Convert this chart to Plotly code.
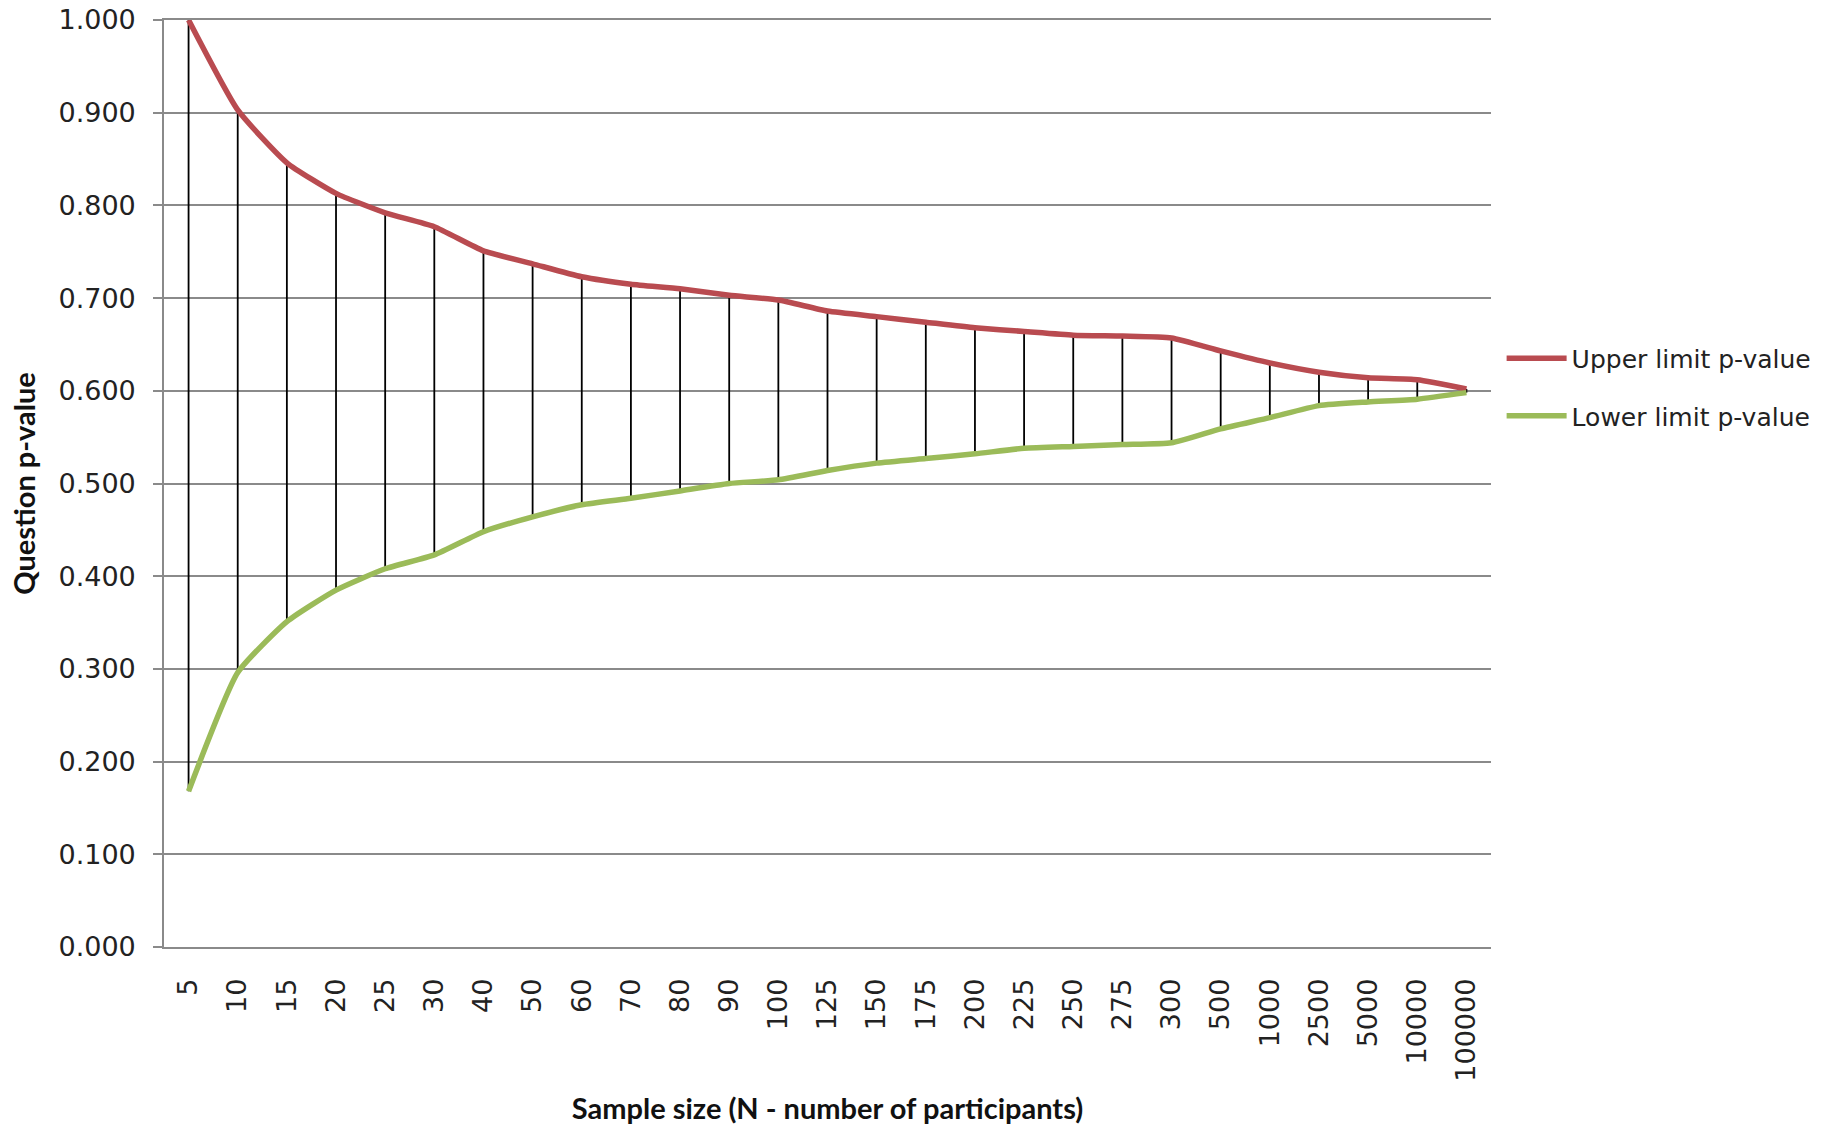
import plotly.graph_objects as go

sample_sizes = ["5", "10", "15", "20", "25", "30", "40", "50", "60", "70", "80", "90", "100",
                "125", "150", "175", "200", "225", "250", "275", "300", "500", "1000", "2500",
                "5000", "10000", "100000"]
upper_p = [1.000, 0.903, 0.846, 0.813, 0.792, 0.777, 0.751, 0.737, 0.723, 0.715, 0.710, 0.703,
           0.698, 0.686, 0.680, 0.674, 0.668, 0.664, 0.660, 0.659, 0.657, 0.643, 0.630, 0.620,
           0.614, 0.612, 0.602]
lower_p = [0.168, 0.296, 0.351, 0.385, 0.408, 0.423, 0.448, 0.464, 0.477, 0.484, 0.492, 0.500,
           0.504, 0.514, 0.522, 0.527, 0.532, 0.538, 0.540, 0.542, 0.544, 0.559, 0.571, 0.584,
           0.588, 0.591, 0.598]
y_ticks = [0.0, 0.1, 0.2, 0.3, 0.4, 0.5, 0.6, 0.7, 0.8, 0.9, 1.0]

# high-low (drop) lines built from the two series
hl_x, hl_y = [], []
for cat, lo, up in zip(sample_sizes, lower_p, upper_p):
    hl_x += [cat, cat, None]
    hl_y += [lo, up, None]

fig = go.Figure()
fig.add_trace(go.Scatter(x=hl_x, y=hl_y, mode="lines", line=dict(color="#000000", width=1.8),
                         showlegend=False, hoverinfo="skip"))
fig.add_trace(go.Scatter(x=sample_sizes, y=upper_p, mode="lines", name="Upper limit p-value",
                         line=dict(color="#B94B50", width=5.5, shape="spline", smoothing=0.5),
                         legendgroup="u"))
fig.add_trace(go.Scatter(x=sample_sizes, y=lower_p, mode="lines", name="Lower limit p-value",
                         line=dict(color="#9BBB59", width=5.5, shape="spline", smoothing=0.5),
                         legendgroup="l"))

fig.update_layout(
    width=1845, height=1139,
    margin=dict(l=164, r=354, t=20, b=192),
    paper_bgcolor="white", plot_bgcolor="white",
    font=dict(family="DejaVu Sans", size=25, color="#222222"),
    showlegend=True,
    legend=dict(x=1.008, y=0.604, xanchor="left", yanchor="middle",
                font=dict(family="DejaVu Sans", size=25, color="#222222"),
                traceorder="grouped", tracegroupgap=22, itemwidth=60,
                bgcolor="rgba(0,0,0,0)"),
    xaxis=dict(
        type="category", categoryorder="array", categoryarray=sample_sizes,
        range=[-0.5, len(sample_sizes) - 0.5],
        tickangle=-90, showgrid=False, zeroline=False,
        showline=True, mirror=True, linecolor="#8A8A8A", linewidth=1.6,
        ticks="", ticklabelstandoff=19,
        tickfont=dict(family="DejaVu Sans", size=27, color="#222222"),
        title=dict(text="<b>Sample size (N - number of participants)</b>",
                   font=dict(family="Lato", size=29, color="#111111"), standoff=18),
        automargin=False,
    ),
    yaxis=dict(
        range=[0, 1.0], tickvals=y_ticks, tickformat=".3f",
        showgrid=True, gridcolor="#8A8A8A", gridwidth=1.6,
        showline=True, linecolor="#8A8A8A", linewidth=1.6,
        ticks="outside", ticklen=9, tickcolor="#8A8A8A", tickwidth=1.6,
        zeroline=False, ticklabelstandoff=12, ticklabeloverflow="allow",
        tickfont=dict(family="DejaVu Sans", size=27, color="#222222"),
        title=dict(text="<b>Question p-value</b>",
                   font=dict(family="Lato", size=29, color="#111111"), standoff=14),
        automargin=False,
    ),
)

fig.write_html("out.html", config={"displayModeBar": False},
               post_script="document.body.style.margin='0';")
